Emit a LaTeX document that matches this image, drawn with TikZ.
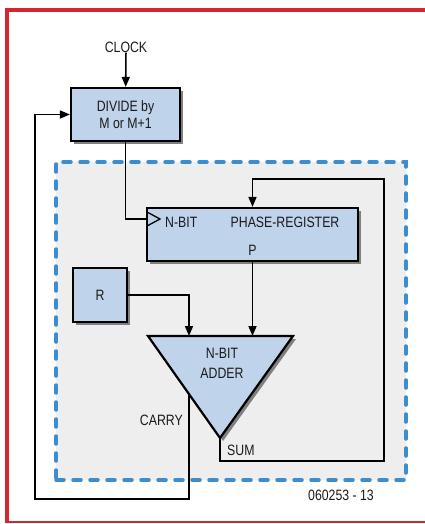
\documentclass[tikz,border=0pt]{standalone}
\usepackage{fontspec}
\setmainfont{Liberation Sans}[FakeStretch=0.82]
\usepackage{tikz}
\usetikzlibrary{arrows.meta,shadows}
\definecolor{frame}{HTML}{D4262F}
\definecolor{blockfill}{HTML}{BFD3EB}
\definecolor{corefill}{HTML}{EEEEEE}
\definecolor{coreline}{HTML}{3A8DD0}
\definecolor{ink}{HTML}{1A1A1A}

\begin{document}
\begin{tikzpicture}[
        x=1pt,y=-1pt,
        font=\fontsize{15}{17}\selectfont,
        text=ink,
        blk/.style={draw=black,line width=2.2pt,fill=blockfill,align=center,
          drop shadow={shadow xshift=3pt,shadow yshift=-3pt,fill=black!50,opacity=1}},
        wire/.style={draw=black,line width=1.6pt},
        arr/.style={wire,-{Triangle[length=10pt,width=8pt]}},
        lbl/.style={inner sep=0pt},
        region/.style={draw=coreline,fill=corefill,line width=3.5pt,
          dash pattern=on 8pt off 9pt,line cap=round}
      ]
      \useasboundingbox (0,0) rectangle (425,524);
      % outer frame
      \draw[frame,line width=4pt] (425,10) -- (7,10) -- (7,523);
      \draw[frame,line width=1.6pt] (7,522) -- (425,522);

      % the divider
      \node[lbl] (clock) at (126,47) {CLOCK};
      \node[blk,minimum width=109pt,minimum height=53pt] (div) at (125.5,114.5) {DIVIDE by\\M or M+1};
      \draw[arr] (clock) -- (div);

      % the accumulator
      \node[region,minimum width=350pt,minimum height=318pt] (core) at (231,321) {};
      \node[blk,minimum width=211pt,minimum height=53pt] (reg) at (252.5,234.5) {};
      \node[lbl,anchor=west] (nbit) at (165,222) {N-BIT};
      \node[lbl] (phase) at (285,222) {PHASE-REGISTER};
      \node[lbl] (p) at (252.5,250) {P};
      \coordinate (clk) at (147,219);
      \draw[line width=1.3pt] (147,212) -- (160,219) -- (147,226);
      \draw[wire] (div.south) |- (clk);

      \node[blk,minimum width=54pt,minimum height=54pt] (r) at (100,295) {R};

      % the adder
      \coordinate (addL) at (148,336);
      \coordinate (addR) at (293,336);
      \coordinate (addT) at (220,438);
      \draw[blk] (addL) -- (addR) -- (addT) -- cycle;
      \node[lbl,align=center] (adder) at (222,363) {N-BIT\\[3pt]ADDER};

      \coordinate (inR) at (189,336);
      \draw[arr] (r.east) -| (inR);
      \draw[arr] (reg.south) -- (reg.south |- addL);

      % sum back into the register
      \coordinate (sumR) at (384,461);
      \coordinate (sumT) at (384,179);
      \draw[arr] (addT) |- (sumR) -- (sumT) -| (reg.north);
      \node[lbl,anchor=west] (sum) at (227,450) {SUM};

      % carry back to the divider
      \coordinate (carry) at (189,394);
      \coordinate (loop) at (35,499);
      \draw[arr] (carry) |- (loop) |- (div.west);
      \node[lbl,anchor=east] (carrylbl) at (183,420) {CARRY};

      \node[lbl] (code) at (341,495) {060253 - 13};
    \end{tikzpicture}
\end{document}
